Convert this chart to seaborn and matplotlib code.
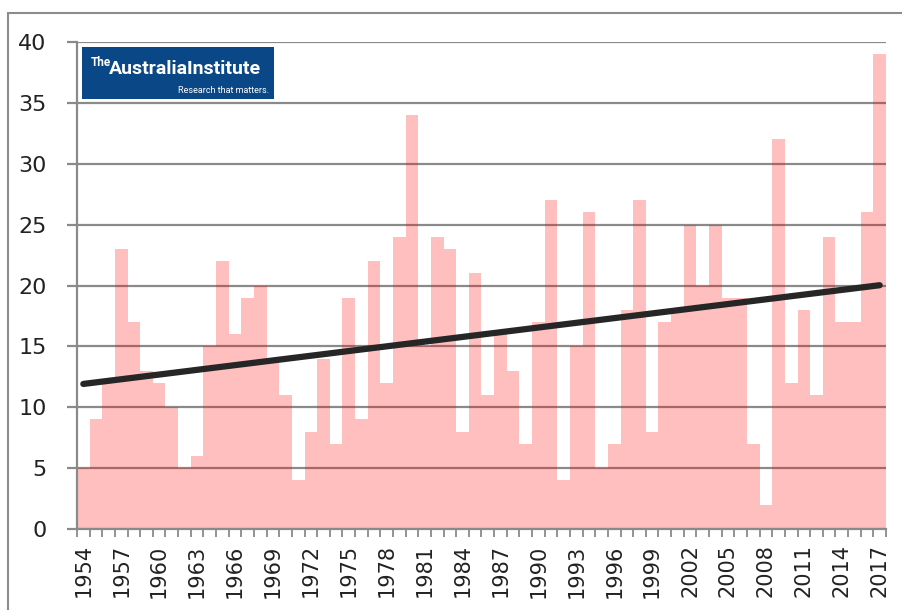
import numpy as np
import pandas as pd
import seaborn as sns
import matplotlib
matplotlib.use("Agg")
from matplotlib import pyplot as plt
from matplotlib.patches import Rectangle
from matplotlib.lines import Line2D

# days per year
years = list(range(1954, 2018))
counts = [5, 9, 12, 23, 17, 13, 12, 10, 5, 6,
          15, 22, 16, 19, 20, 14, 11, 4, 8, 14,
          7, 19, 9, 22, 12, 24, 34, 15, 24, 23,
          8, 21, 11, 16, 13, 7, 17, 27, 4, 15,
          26, 5, 7, 18, 27, 8, 17, 18, 25, 20,
          25, 19, 19, 7, 2, 32, 12, 18, 11, 24,
          17, 17, 26, 39]
y_ticks = [0, 5, 10, 15, 20, 25, 30, 35, 40]
label_step = 3

W, H = 902, 610
sns.set_style("white")
plt.rcParams['font.family'] = ['DejaVu Sans']

df = pd.DataFrame({'year': [str(y) for y in years], 'count': counts})

fig = plt.figure(figsize=(W / 100, H / 100), dpi=100)
ax = fig.add_axes([77 / W, 1 - 529 / H, (886 - 77) / W, (529 - 42) / H])

sns.barplot(data=df, x='year', y='count', color='red', alpha=0.25,
            saturation=1, width=1.0, edgecolor='none', ax=ax)

# linear trend
idx = np.arange(len(counts))
slope, icpt = np.polyfit(idx, counts, 1)
ax.plot(idx, slope * idx + icpt, color='#262626', lw=4.5,
        solid_capstyle='round', zorder=4)

ax.set_xlim(-0.5, len(counts) - 0.5)
ax.set_ylim(0, 40)
ax.set_yticks(y_ticks)
ax.grid(axis='y', color='#8a8a8a', lw=1.6)
ax.set_axisbelow(True)

ax.set_xticks(idx[::label_step])
ax.set_xticklabels([str(y) for y in years][::label_step], rotation=90,
                   fontsize=15, color='#222222')
ax.set_xticks(np.arange(-0.5, len(counts)), minor=True)
ax.tick_params(axis='x', which='major', length=0, pad=11)
ax.tick_params(axis='x', which='minor', length=6, width=1.3, color='#8a8a8a',
               direction='out', bottom=True)
ax.tick_params(axis='y', length=7, width=1.6, color='#8a8a8a', pad=15,
               labelsize=16, labelcolor='#222222', left=True)
ax.set_xlabel('')
ax.set_ylabel('')

for s in ['top', 'right']:
    ax.spines[s].set_visible(False)
for s in ['left', 'bottom']:
    ax.spines[s].set_color('#8a8a8a')
    ax.spines[s].set_linewidth(1.6)

# outer frame
fig.add_artist(Line2D([8 / W, 8 / W], [0, 1 - 13 / H], transform=fig.transFigure,
                      color='#8c8c8c', lw=1.5))
fig.add_artist(Line2D([8 / W, 1], [1 - 13 / H, 1 - 13 / H], transform=fig.transFigure,
                      color='#8c8c8c', lw=1.5))

# logo box
fig.add_artist(Rectangle((82 / W, 1 - 99 / H), (274 - 82) / W, (99 - 47) / H,
                         transform=fig.transFigure, facecolor='#0a4786',
                         edgecolor='none', zorder=5))
fig.text(91 / W, 1 - 66 / H, 'The', color='white', fontsize=8.5,
         family='Roboto', weight='bold', ha='left', va='baseline', zorder=6)
fig.text(109 / W, 1 - 74 / H, 'AustraliaInstitute', color='white', fontsize=14,
         family='Roboto', weight='bold', ha='left', va='baseline', zorder=6)
fig.text(269 / W, 1 - 93 / H, 'Research that matters.', color='white', fontsize=6.5,
         family='Roboto', ha='right', va='baseline', zorder=6)

fig.savefig('out.png', dpi=100)
